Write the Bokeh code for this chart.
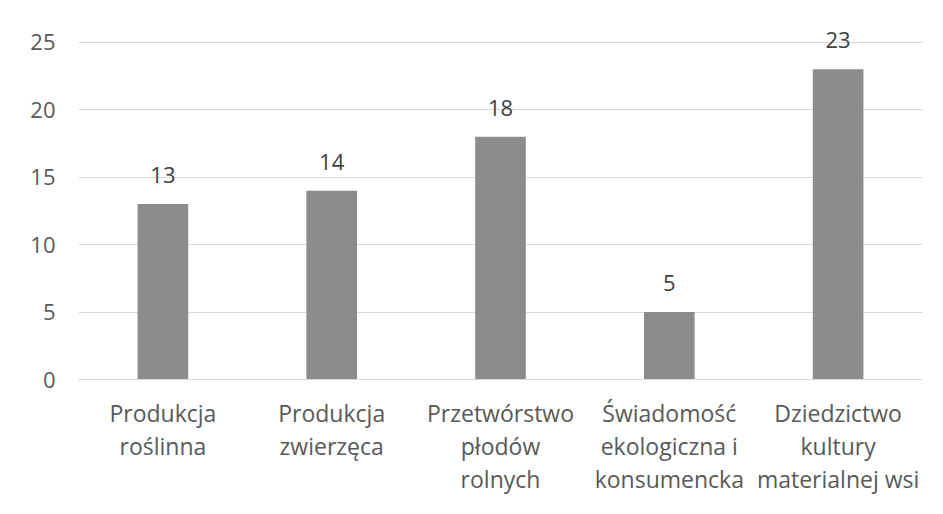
from bokeh.plotting import figure
from bokeh.models import FactorRange, Range1d, FixedTicker, ColumnDataSource
from bokeh.embed import file_html
from bokeh.resources import INLINE
from bokeh.core.properties import value

categories = ["Produkcja\nroślinna", "Produkcja\nzwierzęca", "Przetwórstwo\npłodów\nrolnych",
              "Świadomość\nekologiczna i\nkonsumencka", "Dziedzictwo\nkultury\nmaterialnej wsi"]
values = [13, 14, 18, 5, 23]
y_ticks = [0, 5, 10, 15, 20, 25]

FONT = "Open Sans"

src = ColumnDataSource(dict(cat=categories, val=values, lab=[str(v) for v in values]))

p = figure(width=927, height=498, output_backend="svg", toolbar_location=None,
           x_range=FactorRange(*categories), y_range=Range1d(0, 27.5),
           min_border_left=78, min_border_right=5, min_border_top=8, min_border_bottom=118)

p.vbar(x="cat", top="val", width=0.3, source=src, color="#8c8c8c", line_color=None)
p.text(x="cat", y="val", text="lab", source=src, text_align="center", text_baseline="alphabetic",
       y_offset=-29, text_font=value(FONT), text_font_size="22px", text_color="#404040")

p.outline_line_color = None
p.background_fill_color = "white"
p.border_fill_color = "white"

p.xgrid.grid_line_color = None
p.ygrid.grid_line_color = "#d9d9d9"
p.ygrid.grid_line_width = 1
p.yaxis.ticker = FixedTicker(ticks=y_ticks)

p.yaxis.axis_line_color = None
p.yaxis.major_tick_line_color = None
p.yaxis.minor_tick_line_color = None
p.yaxis.major_tick_out = 0
p.yaxis.minor_tick_out = 0
p.yaxis.major_label_standoff = 23
p.yaxis.major_label_text_font = FONT
p.yaxis.major_label_text_font_size = "22px"
p.yaxis.major_label_text_color = "#595959"

p.xaxis.axis_line_color = "#d9d9d9"
p.xaxis.major_tick_line_color = None
p.xaxis.minor_tick_line_color = None
p.xaxis.major_tick_out = 0
p.xaxis.minor_tick_out = 0
p.xaxis.major_label_standoff = 17
p.xaxis.major_label_text_font = FONT
p.xaxis.major_label_text_font_size = "23px"
p.xaxis.major_label_text_color = "#595959"
p.xaxis.major_label_text_line_height = 1.04

open("out.html", "w").write(file_html(p, INLINE))
